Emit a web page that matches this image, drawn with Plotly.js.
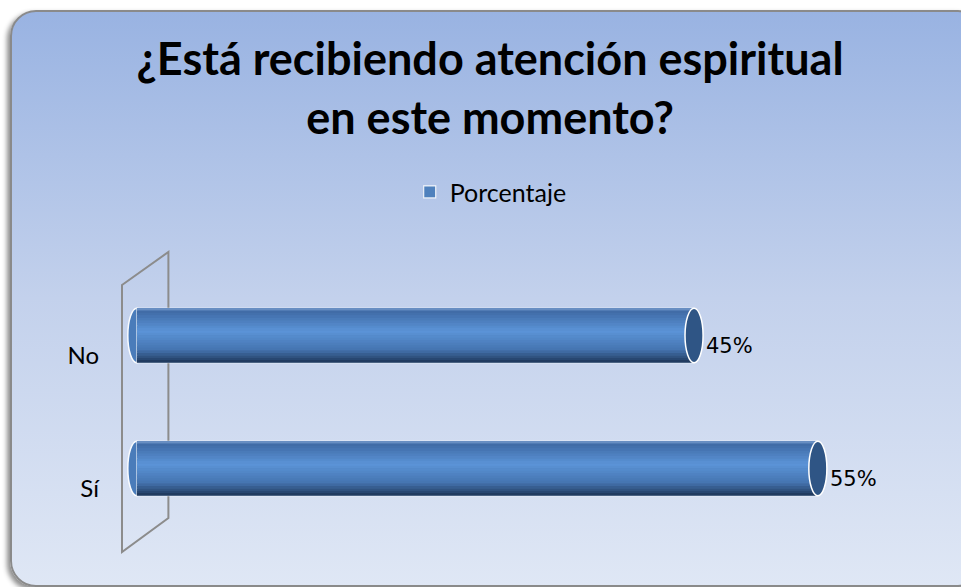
<!DOCTYPE html>
<html><head><meta charset="utf-8">
<script src="https://cdn.plot.ly/plotly-3.0.1.min.js"></script>
<style>
html,body{margin:0;padding:0;width:961px;height:587px;overflow:hidden;background:#ffffff}
#panel{position:absolute;left:10px;top:10px;width:970px;height:573px;border:2px solid #8a8a8a;border-radius:26px;
 background:linear-gradient(180deg,#99b3e2 0%,#c3d1ec 50%,#dfe7f5 100%);box-shadow:-3px 3px 5px rgba(0,0,0,0.45)}
#chart{position:absolute;left:0;top:0;width:961px;height:587px}
</style></head><body><div id="panel"></div><div id="chart"></div>
<script>
// ---- data ----
const categories = ["Sí", "No"];
const values = [55, 45];
const seriesName = "Porcentaje";
const valueSuffix = "%";
const titleText = "¿Está recibiendo atención espiritual<br>en este momento?";

// ---- style ----
const W = 0.41;           // bar thickness in category units
const N = 22;             // stripes for cylinder shading
const stops = [
  [0.00, [123,159,208]],
  [0.07, [63,107,166]],
  [0.42, [92,148,216]],
  [0.75, [70,118,178]],
  [1.00, [29,53,88]]
];
function grad(t){
  for (let i=0;i<stops.length-1;i++){
    const [t0,c0]=stops[i],[t1,c1]=stops[i+1];
    if (t>=t0 && t<=t1){
      const f=(t-t0)/(t1-t0);
      const c=c0.map((v,k)=>Math.round(v+(c1[k]-v)*f));
      return 'rgb('+c.join(',')+')';
    }
  }
  return 'rgb(29,53,88)';
}

const traces = [];
traces.push({
  type:'bar', orientation:'h', x:values, y:categories, name:seriesName,
  width:W, offset:-W/2,
  marker:{color:'#4f81bd', line:{color:'rgba(255,255,255,0.85)', width:1.2}},
  showlegend:true, hoverinfo:'skip'
});
for (let k=0;k<N;k++){
  const h=W/N;
  traces.push({
    type:'bar', orientation:'h', x:values, y:categories,
    width:h*1.08, offset:W/2-(k+1)*h,
    marker:{color:grad((k+0.5)/N), line:{width:0}},
    showlegend:false, hoverinfo:'skip'
  });
}

const rx = 0.73;
const shapes = [
  {type:'path', xref:'paper', yref:'paper', layer:'below',
   path:'M 0.0 0.94 L 0.0633 1.064 L 0.0633 0.064 L 0.0 -0.064 Z',
   line:{color:'#8c8c8c', width:2}, fillcolor:'rgba(0,0,0,0)'}
];
categories.forEach((c,i)=>{
  shapes.push({type:'circle', xref:'x', yref:'y', layer:'below',
    x0:-rx, x1:rx, y0:i-W/2, y1:i+W/2,
    fillcolor:'#4a7cba', line:{color:'rgba(255,255,255,0.95)', width:1.5}});
  shapes.push({type:'circle', xref:'x', yref:'y', layer:'above',
    x0:values[i]-rx, x1:values[i]+rx, y0:i-W/2, y1:i+W/2,
    fillcolor:'#2f5585', line:{color:'#ffffff', width:1.5}});
});

const annotations = categories.map((c,i)=>({
  x:values[i], y:c, xref:'x', yref:'y', text:values[i]+valueSuffix,
  showarrow:false, xanchor:'left', yanchor:'middle', xshift:10, yshift:-10,
  font:{family:'DejaVu Sans', size:21, color:'#000'}
}));

const layout = {
  width:961, height:587,
  paper_bgcolor:'rgba(0,0,0,0)', plot_bgcolor:'rgba(0,0,0,0)',
  margin:{l:122, r:106, t:269, b:52, pad:0},
  barmode:'overlay',
  hovermode:false,
  title:{text:titleText, x:0.51, xref:'container', xanchor:'center',
         y:1-75/587, yref:'container', yanchor:'top',
         font:{family:'Lato', size:45, color:'#000', weight:'bold'}},
  xaxis:{range:[-1.2,58], visible:false, fixedrange:true},
  yaxis:{type:'category', showgrid:false, zeroline:false, showline:false, ticks:'',
         ticklabelstandoff:22, ticklabelshift:20,
         tickfont:{family:'Lato', size:24, color:'#000'}, fixedrange:true},
  legend:{orientation:'h', x:0.503, xanchor:'center', y:1.289, yanchor:'middle',
          font:{family:'Lato', size:25, color:'#000'}, bgcolor:'rgba(0,0,0,0)'},
  shapes:shapes,
  annotations:annotations
};
Plotly.newPlot('chart', traces, layout, {displayModeBar:false, staticPlot:true});
</script></body></html>
